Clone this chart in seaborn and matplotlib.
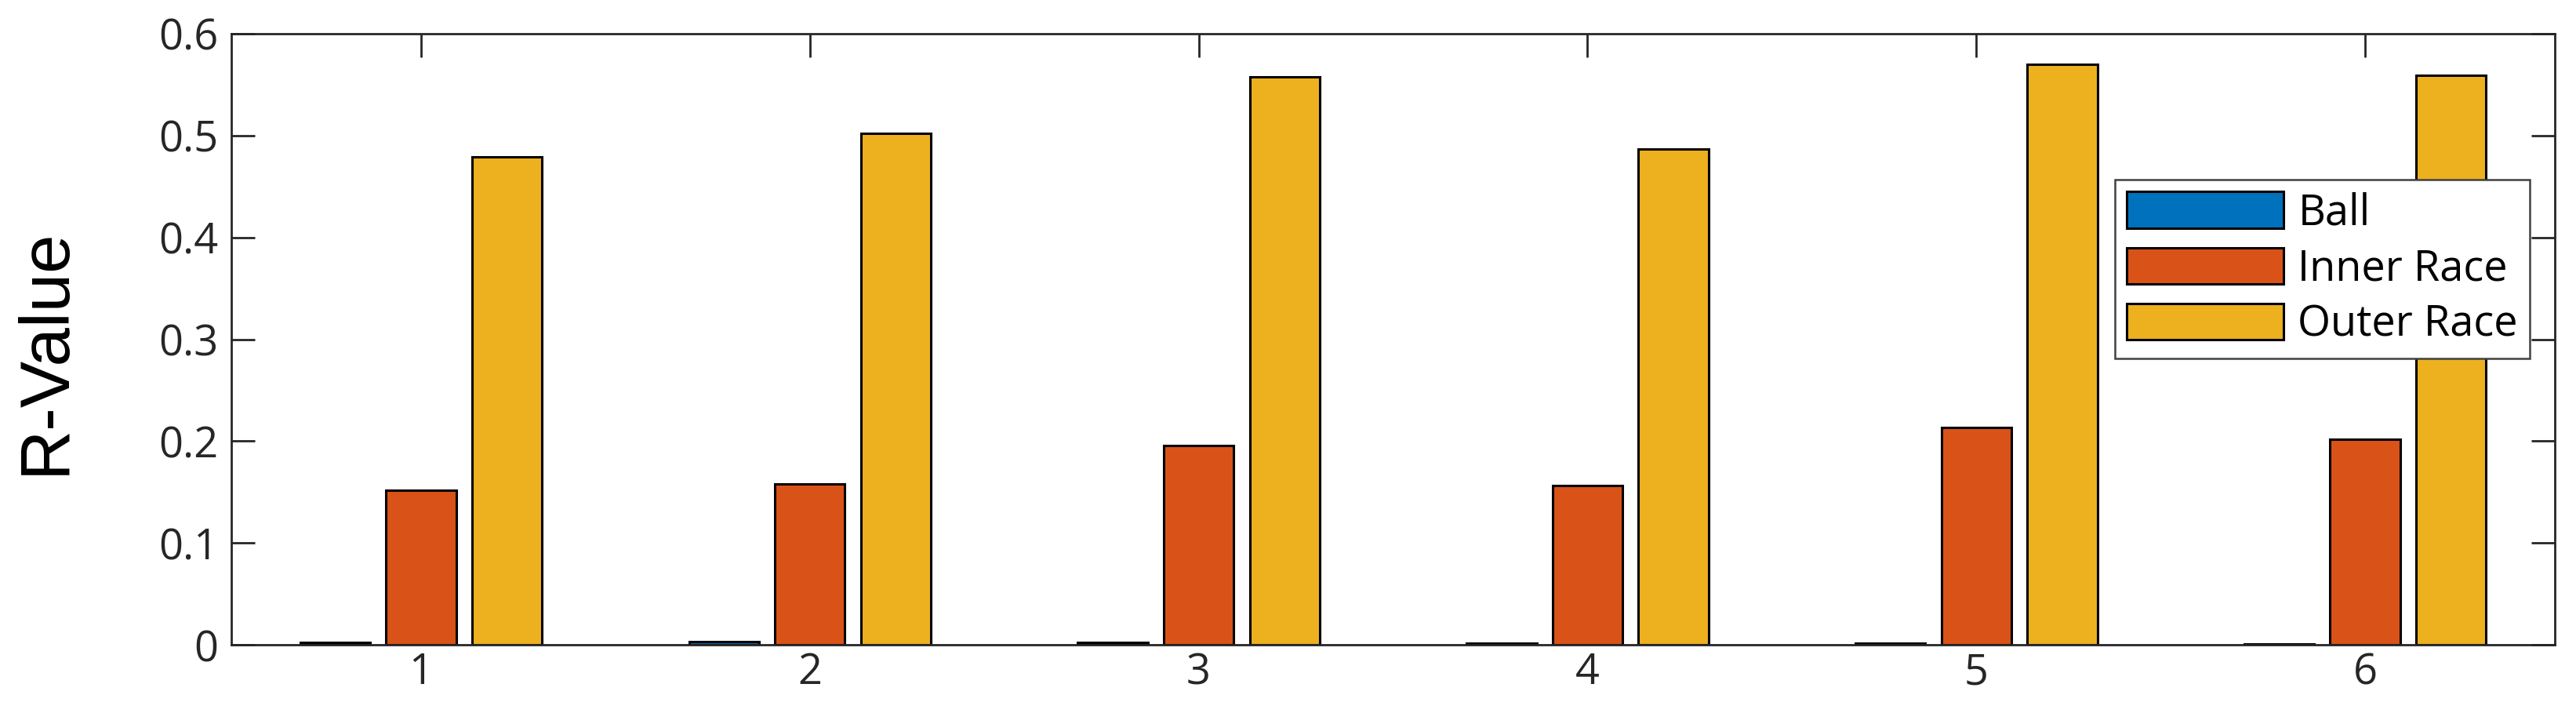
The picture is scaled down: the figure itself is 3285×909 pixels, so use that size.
import numpy as np
import pandas as pd
import matplotlib
matplotlib.use("Agg")
import matplotlib.pyplot as plt
import seaborn as sns

# --- data ---
groups = ["1", "2", "3", "4", "5", "6"]
fault_types = ["Ball", "Inner Race", "Outer Race"]
ball = [0.002, 0.003, 0.002, 0.0015, 0.0015, 0.001]
inner_race = [0.152, 0.158, 0.196, 0.156, 0.213, 0.202]
outer_race = [0.479, 0.502, 0.558, 0.487, 0.570, 0.559]
y_ticks = [0, 0.1, 0.2, 0.3, 0.4, 0.5, 0.6]

# MATLAB default colours
colors = ["#0072BD", "#D95319", "#EDB120"]
axis_color = "#262626"

df = pd.DataFrame({
    "group": groups * 3,
    "type": np.repeat(fault_types, len(groups)),
    "value": ball + inner_race + outer_race,
})

sns.set_style("ticks")
plt.rcParams["font.family"] = ["Open Sans", "DejaVu Sans"]

fig = plt.figure(figsize=(32.85, 9.09), dpi=100)
ax = fig.add_axes([0.0898, 0.0957, 0.902, 0.857])

sns.barplot(data=df, x="group", y="value", hue="type", order=groups,
            hue_order=fault_types, palette=colors, saturation=1,
            width=0.663, gap=0.185, edgecolor="black", linewidth=2.2,
            errorbar=None, ax=ax)

ax.set_xlim(-0.488, 5.488)
ax.set_ylim(0, 0.6)
ax.set_yticks(y_ticks)
ax.set_yticklabels([f"{t:g}" for t in y_ticks])
ax.set_xlabel("")
ax.set_ylabel("R-Value", fontsize=64, family=["Liberation Sans", "DejaVu Sans"],
              color="black")
ax.yaxis.set_label_coords(-0.0655, 0.481)

for side in ["left", "right", "top", "bottom"]:
    ax.spines[side].set_visible(True)
    ax.spines[side].set_color(axis_color)
    ax.spines[side].set_linewidth(2.0)

ax.tick_params(axis="both", direction="in", length=21.6, width=2.0, color=axis_color,
               labelsize=39, labelcolor=axis_color, top=True, right=True)
ax.tick_params(axis="x", pad=6)
ax.tick_params(axis="y", pad=12)

leg = ax.legend(loc="upper right", bbox_to_anchor=(0.9892, 0.7612), fontsize=39,
                handlelength=3.7, handleheight=0.94, labelspacing=0.3,
                handletextpad=0.33, borderpad=0.28, borderaxespad=0,
                fancybox=False, framealpha=1, edgecolor="#404040")
leg.get_frame().set_linewidth(1.8)
for t in leg.get_texts():
    t.set_color("black")

fig.savefig("out.png", dpi=100)
